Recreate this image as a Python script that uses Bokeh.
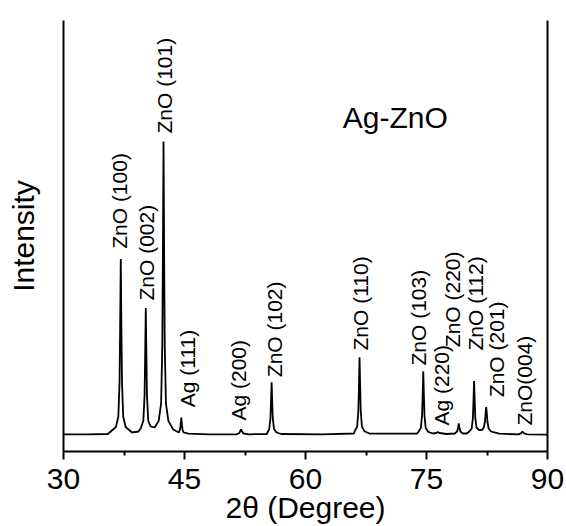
import math
from bokeh.plotting import figure
from bokeh.models import ColumnDataSource, Range1d, FixedTicker, LinearAxis, Label
from bokeh.core.properties import value
from bokeh.embed import file_html
from bokeh.resources import INLINE

# ---- data ----
two_theta = [
    30.0, 33.0, 35.5,
    36.5, 36.8, 36.95, 37.02, 37.1, 37.18, 37.25, 37.4, 37.7, 38.5, 39.3,
    39.6, 39.9, 40.05, 40.12, 40.2, 40.28, 40.35, 40.5, 40.8, 41.3,
    41.8, 42.1, 42.25, 42.32, 42.4, 42.48, 42.55, 42.7, 43.0, 43.6,
    44.3, 44.45, 44.52, 44.6, 44.68, 44.75, 44.9, 45.5, 48.0, 51.5,
    51.8, 51.95, 52.0, 52.1, 52.3, 53.0, 55.2,
    55.5, 55.65, 55.72, 55.8, 55.88, 55.95, 56.1, 56.4, 57.0, 62.0, 66.0,
    66.1, 66.4, 66.55, 66.62, 66.7, 66.78, 66.85, 67.0, 67.3, 68.0, 73.8,
    74.0, 74.3, 74.45, 74.52, 74.6, 74.68, 74.75, 74.9, 75.2,
    75.8, 76.2, 76.4, 76.6, 77.5, 78.5,
    78.8, 78.92, 79.0, 79.08, 79.2, 79.5, 80.0,
    80.3, 80.6, 80.75, 80.82, 80.9, 80.98, 81.05, 81.2, 81.5, 81.9,
    82.1, 82.25, 82.32, 82.4, 82.48, 82.55, 82.7, 83.0, 84.0, 86.4,
    86.7, 86.9, 87.1, 87.5, 90.0,
]
intensity = [
    172, 172, 175,
    245, 350, 700, 1225, 1925, 1225, 700, 350, 245, 190, 200,
    235, 310, 560, 935, 1435, 935, 560, 310, 250, 240,
    306, 481, 1063, 1936, 3100, 1936, 1063, 481, 306, 220,
    190, 220, 270, 340, 270, 220, 190, 178, 172, 172,
    185, 210, 222, 205, 180, 172, 175,
    224, 328, 484, 692, 484, 328, 224, 190, 175, 172, 180,
    203, 249, 403, 634, 942, 634, 403, 249, 203, 178, 178,
    197, 235, 361, 550, 802, 550, 361, 235, 197,
    180, 185, 195, 185, 175, 180,
    200, 240, 282, 240, 200, 180, 180,
    200, 228, 334, 493, 705, 493, 334, 240, 215, 215,
    240, 300, 380, 445, 380, 300, 230, 200, 178, 172,
    182, 200, 182, 172, 168,
]

peak_labels = ["ZnO (100)", "ZnO (002)", "ZnO (101)", "Ag (111)", "Ag (200)",
               "ZnO (102)", "ZnO (110)", "ZnO (103)", "Ag (220)", "ZnO (220)",
               "ZnO (112)", "ZnO (201)", "ZnO(004)"]
label_x = [36.98, 40.30, 42.56, 45.37, 51.73, 56.17, 66.85, 74.04, 76.87,
           78.22, 81.11, 83.69, 87.18]
label_y = [2027, 1510, 3180, 443, 310, 743, 1010, 860, 260, 1043, 1010, 543, 260]

x_ticks = [30, 45, 60, 75, 90]
x_minor_ticks = [37.5, 52.5, 67.5, 82.5]
sample_name = "Ag-ZnO"
x_title = "2θ (Degree)"
y_title = "Intensity"

FONT = "Liberation Sans"

p = figure(width=566, height=526, output_backend="svg", toolbar_location=None,
           x_range=Range1d(30, 90), y_range=Range1d(0, 4310),
           min_border_left=63, min_border_right=19, min_border_top=20,
           min_border_bottom=75)
p.outline_line_color = None
p.grid.visible = False
p.background_fill_color = "white"
p.border_fill_color = "white"

p.line(two_theta, intensity, line_color="black", line_width=1.8)

src = ColumnDataSource(dict(x=label_x, y=label_y, text=peak_labels))
p.text(x="x", y="y", text="text", source=src, angle=math.pi / 2,
       text_align="left", text_baseline="middle",
       text_font=value(FONT), text_font_size="21px", text_color="black")

p.add_layout(Label(x=64.62, y=3340, text=sample_name, text_font=FONT,
                   text_font_size="30px", text_baseline="alphabetic",
                   text_align="left", text_color="black"))

# bottom axis
xa = p.xaxis[0]
xa.ticker = FixedTicker(ticks=x_ticks, minor_ticks=x_minor_ticks)
xa.axis_label = x_title
xa.axis_label_text_font = FONT
xa.axis_label_text_font_size = "30px"
xa.axis_label_text_font_style = "normal"
xa.axis_label_text_color = "black"
xa.axis_label_text_line_height = 0.8
xa.axis_label_standoff = -1
xa.major_label_text_font = FONT
xa.major_label_text_font_size = "30px"
xa.major_label_text_color = "black"
xa.major_label_text_line_height = 1.0
xa.major_label_standoff = 9
xa.major_tick_in = 0
xa.major_tick_out = 8
xa.minor_tick_in = 0
xa.minor_tick_out = 4
xa.axis_line_width = 2
xa.axis_line_color = "black"
xa.major_tick_line_width = 2
xa.minor_tick_line_width = 2

# left axis
ya = p.yaxis[0]
ya.ticker = FixedTicker(ticks=[])
ya.axis_label = y_title
ya.axis_label_text_font = FONT
ya.axis_label_text_font_size = "30px"
ya.axis_label_text_font_style = "normal"
ya.axis_label_text_color = "black"
ya.axis_label_text_line_height = 1.0
ya.axis_label_standoff = 24
ya.major_tick_out = 0
ya.minor_tick_out = 0
ya.axis_line_width = 2
ya.axis_line_color = "black"

# right border line
ra = LinearAxis(ticker=FixedTicker(ticks=[]), axis_line_width=2,
                axis_line_color="black", major_tick_out=0, minor_tick_out=0)
p.add_layout(ra, "right")

open("out.html", "w").write(file_html(p, INLINE))
